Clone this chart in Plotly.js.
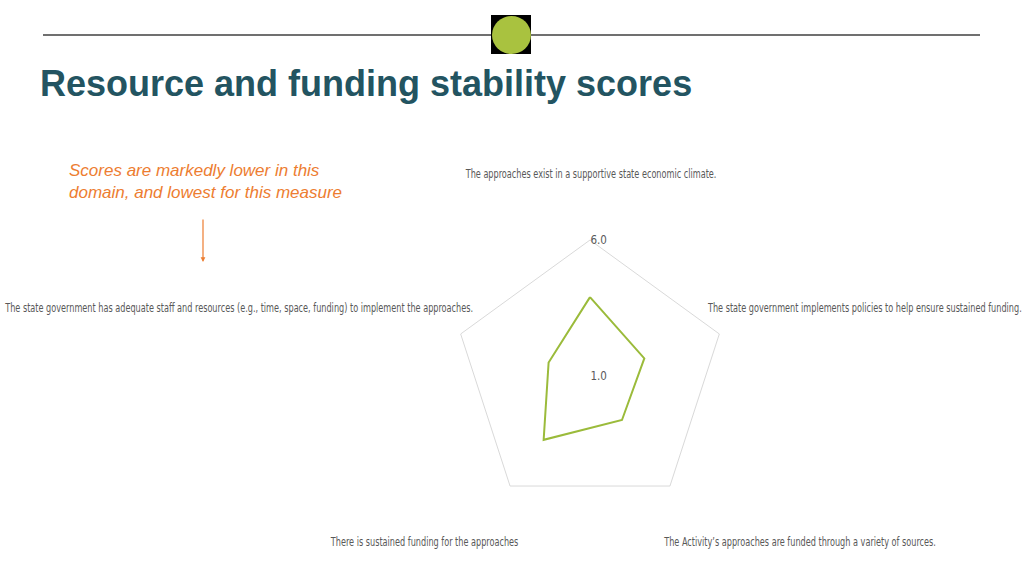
<!DOCTYPE html>
<html>
<head>
<meta charset="utf-8">
<script src="https://cdn.plot.ly/plotly-3.0.1.min.js"></script>
<style>html,body{margin:0;padding:0;background:#fff;}#chart{width:1024px;height:575px;}</style>
</head>
<body>
<div id="chart"></div>
<script>
// ---- data ----
const categories = [
  "The approaches exist in a supportive state economic climate.",
  "The state government implements policies to help ensure sustained funding.",
  "The Activity\u2019s approaches are funded through a variety of sources.",
  "There is sustained funding for the approaches",
  "The state government has adequate staff and resources (e.g., time, space, funding) to implement the approaches."
];
const scores = [3.9, 3.1, 3.0, 3.9, 2.6];
const radialTickValues = [1, 6];
const radialTickLabels = ["1.0", "6.0"];
const titleText = "Resource and funding stability scores";
const noteText = "Scores are markedly lower in this<br>domain, and lowest for this measure";

// ---- helpers (pixel -> paper) ----
const W = 1024, H = 575;
const px = x => x / W;
const py = y => 1 - y / H;

const labelFont = {family: "'DejaVu Sans Condensed','Liberation Sans Narrow',sans-serif", size: 13, color: "#595959"};
const tickFont = {family: "'DejaVu Sans Condensed','Liberation Sans Narrow',sans-serif", size: 11.5, color: "#595959"};

// label placement per category (layout only)
const labelPos = [
  {x: 590, y: 174, xanchor: "center"},
  {x: 705, y: 307, xanchor: "left"},
  {x: 799, y: 541, xanchor: "center"},
  {x: 424, y: 541, xanchor: "center"},
  {x: 475, y: 307, xanchor: "right"}
];

const annotations = categories.map((c, i) => ({
  text: c, x: px(labelPos[i].x), y: py(labelPos[i].y), xref: "paper", yref: "paper",
  xanchor: labelPos[i].xanchor, yanchor: "middle", showarrow: false, font: labelFont
}));

annotations.push({
  text: "<i>" + noteText + "</i>", x: px(67), y: py(181), xref: "paper", yref: "paper",
  xanchor: "left", yanchor: "middle", align: "left", showarrow: false,
  font: {family: "'Liberation Sans', Arial, sans-serif", size: 17, color: "#ED7D31"}
});
annotations.push({
  text: "", x: px(203), y: py(262), xref: "paper", yref: "paper",
  showarrow: true, ax: 0, ay: -44, arrowcolor: "#ED7D31", arrowwidth: 1.2,
  arrowhead: 2, arrowsize: 0.8
});

const cx = 590, cy = 376, R = 136;

const trace = {
  type: "scatterpolar",
  r: scores.concat([scores[0]]),
  theta: categories.concat([categories[0]]),
  mode: "lines",
  line: {color: "#9BBB3B", width: 2},
  hoverinfo: "skip",
  showlegend: false
};

const layout = {
  width: W, height: H,
  margin: {l: 0, r: 0, t: 0, b: 0},
  paper_bgcolor: "#ffffff",
  showlegend: false,
  title: {
    text: "<b>" + titleText + "</b>", x: px(40), xanchor: "left", xref: "paper",
    y: py(83), yanchor: "middle", yref: "paper",
    font: {family: "'Liberation Sans', Arial, sans-serif", size: 36, color: "#235461"}
  },
  polar: {
    domain: {x: [px(cx - R), px(cx + R)], y: [py(cy + R), py(cy - R)]},
    bgcolor: "#ffffff",
    gridshape: "linear",
    radialaxis: {
      range: [1, 6], tickvals: radialTickValues, ticktext: radialTickLabels,
      angle: 90, tickangle: 90, showline: false, showgrid: false, ticks: "",
      tickfont: tickFont
    },
    angularaxis: {
      type: "category", categoryarray: categories, rotation: 90, direction: "clockwise",
      showline: true, linecolor: "#D9D9D9", linewidth: 1,
      showgrid: false, showticklabels: false, ticks: ""
    }
  },
  shapes: [
    {type: "line", xref: "paper", yref: "paper", x0: px(43), x1: px(980), y0: py(35), y1: py(35),
     line: {color: "#404040", width: 1.5}},
    {type: "rect", xref: "paper", yref: "paper", x0: px(491), x1: px(531), y0: py(54), y1: py(15),
     fillcolor: "#000000", line: {width: 0}},
    {type: "circle", xref: "paper", yref: "paper", x0: px(492), x1: px(531), y0: py(54), y1: py(16),
     fillcolor: "#A9C23F", line: {width: 0}}
  ],
  annotations: annotations
};

Plotly.newPlot("chart", [trace], layout, {displayModeBar: false, staticPlot: true}).then(gd => {
  // condense the category labels horizontally (reference uses a narrow face)
  const texts = gd.querySelectorAll(".annotation .annotation-text");
  const refW = texts[1].getBBox().width;
  const s = 315 / refW;
  for (let i = 0; i < categories.length; i++) {
    const t = texts[i];
    const b = t.getBBox();
    const xa = labelPos[i].xanchor;
    const a = xa === "left" ? b.x : (xa === "right" ? b.x + b.width : b.x + b.width / 2);
    const prev = t.getAttribute("transform") || "";
    t.setAttribute("transform", prev + " translate(" + (a * (1 - s)) + ",0) scale(" + s + ",1)");
  }
});
</script>
</body>
</html>
